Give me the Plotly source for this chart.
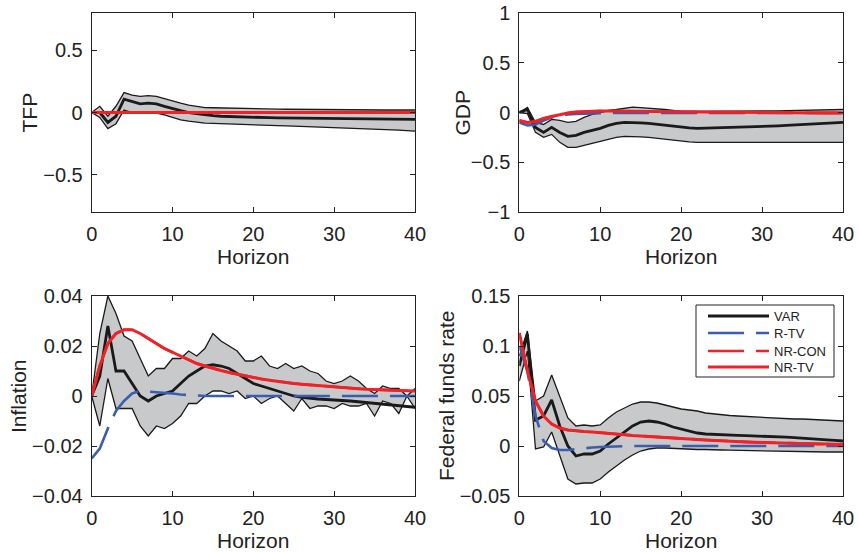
import plotly.graph_objects as go

horizon = list(range(41))

# ---------------- TFP ----------------
tfp_var = [0, 0.0, -0.08, -0.03, 0.107, 0.09, 0.07, 0.075, 0.07, 0.05, 0.03, 0.015, 0.0, -0.01, -0.02,
           -0.025, -0.03, -0.033, -0.035, -0.038, -0.04, -0.041, -0.042, -0.043, -0.044, -0.045, -0.046,
           -0.047, -0.048, -0.049, -0.05, -0.05, -0.051, -0.051, -0.052, -0.052, -0.053, -0.053, -0.054,
           -0.054, -0.055]
tfp_up = [0, 0.05, -0.03, 0.05, 0.16, 0.14, 0.13, 0.135, 0.13, 0.11, 0.09, 0.075, 0.06, 0.05, 0.04,
          0.038, 0.036, 0.034, 0.032, 0.031, 0.03, 0.029, 0.028, 0.027, 0.026, 0.025, 0.024, 0.023, 0.022,
          0.021, 0.02, 0.02, 0.02, 0.02, 0.02, 0.02, 0.02, 0.02, 0.02, 0.02, 0.02]
tfp_lo = [0, -0.04, -0.13, -0.09, 0.02, 0.0, 0.0, 0.0, -0.005, -0.02, -0.04, -0.06, -0.07, -0.08, -0.085,
          -0.087, -0.09, -0.093, -0.095, -0.098, -0.1, -0.102, -0.104, -0.106, -0.108, -0.11, -0.112,
          -0.114, -0.116, -0.118, -0.12, -0.122, -0.124, -0.126, -0.128, -0.13, -0.134, -0.138, -0.142,
          -0.146, -0.15]
tfp_rtv = [0.0] * 41
tfp_nrcon = [0.0] * 41
tfp_nrtv = [0.0] * 41

# ---------------- GDP ----------------
gdp_var = [0, 0.03, -0.15, -0.2, -0.15, -0.2, -0.24, -0.23, -0.2, -0.18, -0.16, -0.13, -0.11, -0.1, -0.1,
           -0.105, -0.11, -0.12, -0.13, -0.14, -0.15, -0.155, -0.16, -0.158, -0.157, -0.155, -0.153,
           -0.15, -0.148, -0.145, -0.14, -0.137, -0.134, -0.13, -0.126, -0.12, -0.116, -0.112, -0.108,
           -0.104, -0.1]
gdp_up = [0, 0.05, -0.1, -0.12, -0.07, -0.08, -0.1, -0.09, -0.05, -0.02, 0.0, 0.02, 0.03, 0.04, 0.055,
          0.05, 0.045, 0.04, 0.03, 0.02, 0.01, 0.01, 0.01, 0.01, 0.01, 0.01, 0.011, 0.012, 0.013, 0.014,
          0.015, 0.016, 0.017, 0.018, 0.019, 0.02, 0.022, 0.024, 0.026, 0.028, 0.03]
gdp_lo = [0, -0.01, -0.2, -0.25, -0.22, -0.3, -0.35, -0.35, -0.33, -0.31, -0.29, -0.27, -0.25, -0.24,
          -0.24, -0.245, -0.25, -0.26, -0.27, -0.28, -0.29, -0.295, -0.3, -0.3, -0.3, -0.3, -0.3, -0.3,
          -0.3, -0.3, -0.3, -0.3, -0.3, -0.3, -0.3, -0.3, -0.3, -0.3, -0.3, -0.3, -0.3]
gdp_rtv = [-0.1, -0.13, -0.12, -0.08, -0.05, -0.035, -0.02, -0.015, -0.01, -0.008, -0.006, -0.005,
           -0.005, -0.005, -0.005, -0.005, -0.005, -0.005, -0.005, -0.005, -0.005, -0.005, -0.005,
           -0.005, -0.005, -0.005, -0.005, -0.005, -0.005, -0.005, -0.005, -0.005, -0.005, -0.005,
           -0.005, -0.005, -0.005, -0.005, -0.005, -0.005, -0.005]
gdp_nrtv = [-0.08, -0.1, -0.09, -0.06, -0.04, -0.02, -0.005, 0.005, 0.01, 0.013, 0.015, 0.015, 0.015,
            0.014, 0.013, 0.012, 0.011, 0.01, 0.009, 0.008, 0.007, 0.006, 0.005, 0.005, 0.004, 0.004,
            0.003, 0.003, 0.002, 0.001, 0.0, 0.0, -0.001, -0.001, -0.002, -0.002, -0.003, -0.003,
            -0.004, -0.004, -0.005]
gdp_nrcon = [-0.08, -0.1, -0.09, -0.06, -0.04, -0.02, -0.005, 0.005, 0.01, 0.013, 0.015, 0.015, 0.015,
             0.014, 0.013, 0.012, 0.011, 0.01, 0.009, 0.008, 0.007, 0.006, 0.005, 0.005, 0.004, 0.004,
             0.003, 0.003, 0.002, 0.001, 0.0, 0.0, -0.001, -0.001, -0.002, -0.002, -0.003, -0.003,
             -0.004, -0.004, -0.005]

# ---------------- Inflation ----------------
inf_var = [0, 0.008, 0.028, 0.01, 0.01, 0.005, 0.0, -0.002, 0.0, 0.001, 0.002, 0.005, 0.008, 0.01,
           0.012, 0.0125, 0.012, 0.011, 0.009, 0.007, 0.005, 0.004, 0.003, 0.002, 0.001, 0.0, -0.0005,
           -0.001, -0.0012, -0.0014, -0.0015, -0.0018, -0.002, -0.0023, -0.0026, -0.003, -0.0033,
           -0.0036, -0.004, -0.0043, -0.0045]
inf_up = [0, 0.025, 0.04, 0.033, 0.024, 0.022, 0.015, 0.008, 0.011, 0.011, 0.015, 0.015, 0.018, 0.016,
          0.019, 0.025, 0.022, 0.02, 0.018, 0.014, 0.014, 0.016, 0.012, 0.011, 0.013, 0.011, 0.012,
          0.01, 0.009, 0.006, 0.005, 0.006, 0.008, 0.006, 0.003, 0.001, 0.004, 0.003, 0.003, 0.0, 0.003]
inf_lo = [0, -0.012, 0.007, -0.005, -0.005, -0.005, -0.012, -0.016, -0.012, -0.013, -0.011, -0.008,
          -0.003, -0.003, 0.0, 0.002, 0.002, 0.001, 0.002, -0.001, 0.0, -0.003, -0.001, 0.0, -0.003,
          -0.006, -0.001, -0.005, -0.004, -0.004, -0.005, -0.003, -0.004, -0.004, -0.003, -0.008,
          -0.002, -0.003, -0.007, 0.0, -0.005]
inf_rtv = [-0.025, -0.021, -0.013, -0.006, -0.002, 0.001, 0.002, 0.0018, 0.0015, 0.0012, 0.001, 0.0006,
           0.0003, 0.0001, 0.0, 0.0, 0.0, 0.0, 0.0, 0.0, 0.0, 0.0, 0.0, 0.0, 0.0, 0.0, 0.0, 0.0, 0.0,
           0.0, 0.0, 0.0, 0.0, 0.0, 0.0, 0.0, 0.0, 0.0, 0.0, 0.0, 0.0]
inf_nrtv = [0, 0.012, 0.021, 0.025, 0.0265, 0.0265, 0.025, 0.023, 0.021, 0.019, 0.0175, 0.016, 0.0145,
            0.013, 0.012, 0.011, 0.0102, 0.0094, 0.0087, 0.008, 0.0074, 0.0068, 0.0063, 0.0058, 0.0054,
            0.005, 0.0047, 0.0044, 0.0041, 0.0038, 0.0035, 0.0033, 0.0031, 0.0029, 0.0027, 0.0025,
            0.0024, 0.0023, 0.0022, 0.0021, 0.002]
inf_nrcon = [0, 0.012, 0.021, 0.025, 0.0265, 0.0265, 0.025, 0.023, 0.021, 0.019, 0.0175, 0.016, 0.0145,
             0.013, 0.012, 0.011, 0.0102, 0.0094, 0.0087, 0.008, 0.0074, 0.0068, 0.0063, 0.0058, 0.0054,
             0.005, 0.0047, 0.0044, 0.0041, 0.0038, 0.0035, 0.0033, 0.0031, 0.0029, 0.0027, 0.0025,
             0.0024, 0.0023, 0.0022, 0.0021, 0.002]

# ---------------- Federal funds rate ----------------
ffr_var = [0.08, 0.112, 0.026, 0.03, 0.046, 0.02, 0.0, -0.01, -0.008, -0.008, -0.005, 0.002, 0.008,
           0.014, 0.02, 0.024, 0.025, 0.024, 0.022, 0.019, 0.017, 0.015, 0.013, 0.012, 0.0115, 0.011,
           0.0108, 0.0106, 0.0104, 0.0102, 0.01, 0.0096, 0.0092, 0.0088, 0.0084, 0.008, 0.0074, 0.0068,
           0.0062, 0.0056, 0.005]
ffr_up = [0.09, 0.115, 0.045, 0.05, 0.071, 0.05, 0.028, 0.02, 0.021, 0.02, 0.021, 0.028, 0.034, 0.038,
          0.042, 0.044, 0.044, 0.043, 0.041, 0.039, 0.037, 0.036, 0.035, 0.033, 0.032, 0.031, 0.0305,
          0.03, 0.0295, 0.029, 0.029, 0.0285, 0.028, 0.0275, 0.027, 0.027, 0.0265, 0.026, 0.0255, 0.025,
          0.025]
ffr_lo = [0.065, 0.095, -0.003, -0.001, 0.014, -0.01, -0.033, -0.038, -0.037, -0.037, -0.033, -0.026,
          -0.02, -0.014, -0.009, -0.005, -0.003, -0.002, -0.002, -0.0025, -0.003, -0.003, -0.0035,
          -0.0035, -0.004, -0.004, -0.0042, -0.0044, -0.0046, -0.0048, -0.005, -0.0052, -0.0054,
          -0.0056, -0.0058, -0.006, -0.006, -0.006, -0.006, -0.006, -0.006]
ffr_rtv = [0.1, 0.075, 0.03, 0.005, -0.002, -0.004, -0.004, -0.003, -0.002, -0.0015, -0.001, -0.0006,
           -0.0003, 0.0, 0.0, 0.0, 0.0, 0.0, 0.0, 0.0, 0.0, 0.0, 0.0, 0.0, 0.0, 0.0, 0.0, 0.0, 0.0, 0.0,
           0.0, 0.0, 0.0, 0.0, 0.0, 0.0, 0.0, 0.0, 0.0, 0.0, 0.0]
ffr_nrtv = [0.113, 0.075, 0.045, 0.03, 0.022, 0.018, 0.016, 0.015, 0.0145, 0.014, 0.0135, 0.0128, 0.012,
            0.0113, 0.0106, 0.01, 0.0095, 0.009, 0.0085, 0.008, 0.0075, 0.007, 0.0065, 0.006, 0.0055,
            0.005, 0.0047, 0.0044, 0.0041, 0.0038, 0.0035, 0.0033, 0.0031, 0.0029, 0.0027, 0.0025,
            0.0023, 0.0021, 0.0019, 0.0017, 0.0015]
ffr_nrcon = [0.113, 0.075, 0.045, 0.03, 0.022, 0.018, 0.016, 0.015, 0.0145, 0.014, 0.0135, 0.0128, 0.012,
             0.0113, 0.0106, 0.01, 0.0095, 0.009, 0.0085, 0.008, 0.0075, 0.007, 0.0065, 0.006, 0.0055,
             0.005, 0.0047, 0.0044, 0.0041, 0.0038, 0.0035, 0.0033, 0.0031, 0.0029, 0.0027, 0.0025,
             0.0023, 0.0021, 0.0019, 0.0017, 0.0015]

panel_titles = ["TFP", "GDP", "Inflation", "Federal funds rate"]
legend_names = ["VAR", "R-TV", "NR-CON", "NR-TV"]
y_ranges = [[-0.8, 0.8], [-1, 1], [-0.04, 0.04], [-0.05, 0.15]]
y_ticks = [[-0.5, 0, 0.5], [-1, -0.5, 0, 0.5, 1], [-0.04, -0.02, 0, 0.02, 0.04],
           [-0.05, 0, 0.05, 0.1, 0.15]]
y_ticktext = [["\u22120.5", "0", "0.5"], ["\u22121", "\u22120.5", "0", "0.5", "1"],
              ["\u22120.04", "\u22120.02", "0", "0.02", "0.04"],
              ["\u22120.05", "0", "0.05", "0.1", "0.15"]]
x_ticks = [0, 10, 20, 30, 40]

panels = [
    (tfp_var, tfp_up, tfp_lo, tfp_rtv, tfp_nrcon, tfp_nrtv),
    (gdp_var, gdp_up, gdp_lo, gdp_rtv, gdp_nrcon, gdp_nrtv),
    (inf_var, inf_up, inf_lo, inf_rtv, inf_nrcon, inf_nrtv),
    (ffr_var, ffr_up, ffr_lo, ffr_rtv, ffr_nrcon, ffr_nrtv),
]

W, H = 859, 552
x_domains = [[91.7 / W, 415 / W], [519.3 / W, 843 / W]]
y_domains = [[1 - 212 / H, 1 - 13 / H], [1 - 496 / H, 1 - 296 / H]]

BLACK = "#1a1a1a"
RED = "#ee2227"
BLUE = "#3a5dae"
BAND = "#c8c9cb"
FONT = "Liberation Sans, Arial, sans-serif"
DASH = "36px,12px"

fig = go.Figure()
layout = dict(
    width=W, height=H, margin=dict(l=0, r=0, t=0, b=0, autoexpand=False),
    plot_bgcolor="white", paper_bgcolor="white",
    font=dict(family=FONT, size=20, color="#222"),
    showlegend=False,
)
annotations = []
shapes = []

for i, (var, up, lo, rtv, nrcon, nrtv) in enumerate(panels):
    row, col = divmod(i, 2)
    n = i + 1
    xa = "x" if n == 1 else f"x{n}"
    ya = "y" if n == 1 else f"y{n}"
    fig.add_trace(go.Scatter(x=horizon, y=lo, xaxis=xa, yaxis=ya, mode="lines",
                             line=dict(color=BLACK, width=1.3), hoverinfo="skip"))
    fig.add_trace(go.Scatter(x=horizon, y=up, xaxis=xa, yaxis=ya, mode="lines", fill="tonexty",
                             fillcolor=BAND, line=dict(color=BLACK, width=1.3), hoverinfo="skip"))
    fig.add_trace(go.Scatter(x=horizon, y=var, xaxis=xa, yaxis=ya, mode="lines", name="VAR",
                             line=dict(color=BLACK, width=2.8)))
    fig.add_trace(go.Scatter(x=horizon, y=rtv, xaxis=xa, yaxis=ya, mode="lines", name="R-TV",
                             line=dict(color=BLUE, width=2.6, dash=DASH)))
    fig.add_trace(go.Scatter(x=horizon, y=nrcon, xaxis=xa, yaxis=ya, mode="lines", name="NR-CON",
                             line=dict(color=RED, width=2.6, dash=DASH)))
    fig.add_trace(go.Scatter(x=horizon, y=nrtv, xaxis=xa, yaxis=ya, mode="lines", name="NR-TV",
                             line=dict(color=RED, width=3)))

    axis_common = dict(showline=True, linecolor="#222", linewidth=1, mirror="ticks",
                       ticks="inside", ticklen=5, tickcolor="#222", showgrid=False, zeroline=False,
                       automargin=False, tickfont=dict(family=FONT, size=20, color="#222"))
    layout["xaxis" if n == 1 else f"xaxis{n}"] = dict(
        domain=x_domains[col], anchor=ya, range=[0, 40], tickvals=x_ticks,
        ticklabelstandoff=4, **axis_common)
    layout["yaxis" if n == 1 else f"yaxis{n}"] = dict(
        domain=y_domains[row], anchor=xa, range=y_ranges[i], tickvals=y_ticks[i],
        ticktext=y_ticktext[i], ticklabelstandoff=4, **axis_common)

    xc = (x_domains[col][0] + x_domains[col][1]) / 2
    hy = 1 - (256 / H if row == 0 else 540 / H)
    annotations.append(dict(text="Horizon", x=xc, y=hy, xref="paper", yref="paper",
                            xanchor="center", yanchor="middle",
                            showarrow=False, font=dict(size=21, color="#222")))
    ytx = [[29, 462], [18, 446]][row][col]
    ytc = (y_domains[row][0] + y_domains[row][1]) / 2
    annotations.append(dict(text=panel_titles[i], x=ytx / W, y=ytc, xref="paper", yref="paper",
                            xanchor="center", yanchor="middle",
                            textangle=-90, showarrow=False, font=dict(size=21, color="#222")))

# legend box (drawn in paper coordinates)
def px(x):
    return x / W

def py(y):
    return 1 - y / H

shapes.append(dict(type="rect", xref="paper", yref="paper", x0=px(696), x1=px(834),
                   y0=py(377), y1=py(305), line=dict(color="#222", width=1), fillcolor="white"))
leg_styles = [(BLACK, 3, "solid"), (BLUE, 2.6, DASH), (RED, 2.6, DASH), (RED, 3, "solid")]
row_y = [316, 333, 351, 367]
for name, (c, w, d), yy in zip(legend_names, leg_styles, row_y):
    shapes.append(dict(type="line", xref="paper", yref="paper", x0=px(708), x1=px(769),
                       y0=py(yy), y1=py(yy), line=dict(color=c, width=w, dash=d)))
    annotations.append(dict(text=name, x=px(772), y=py(yy), xref="paper", yref="paper",
                            xanchor="left", yanchor="middle", showarrow=False,
                            font=dict(size=13, color="#222")))

layout["annotations"] = annotations
layout["shapes"] = shapes
fig.update_layout(**layout)
fig.write_html("out.html", config={"displayModeBar": False},
               post_script="document.body.style.margin='0px';")
